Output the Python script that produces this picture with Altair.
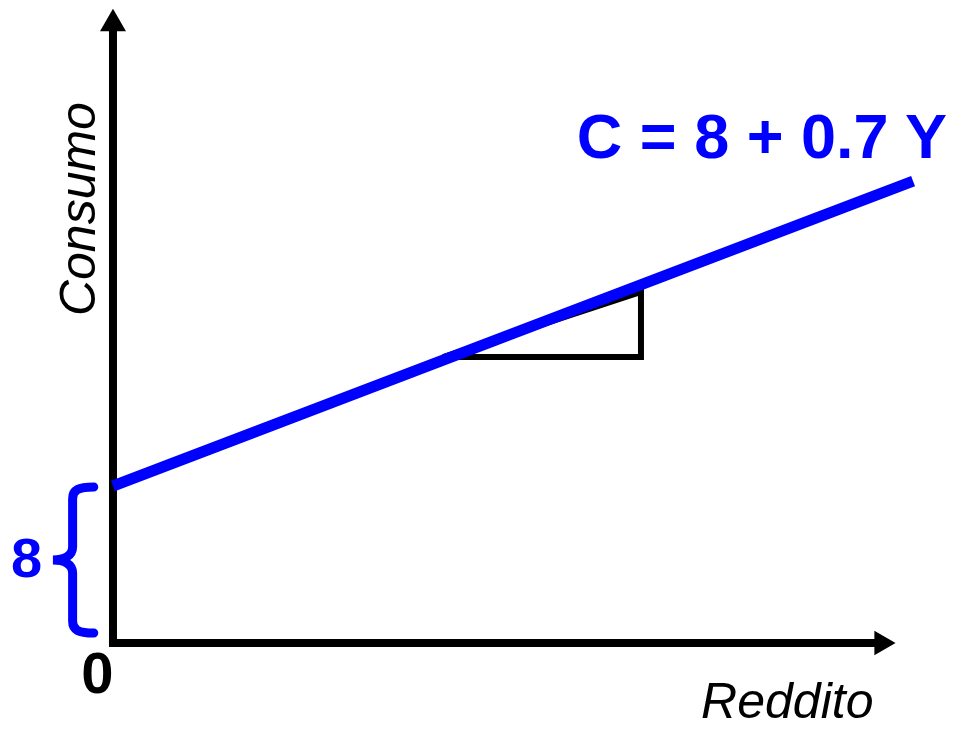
import altair as alt
import pandas as pd

# Consumption function C = 8 + 0.7 Y (income Y on x, consumption C on y)
income_line = [0.0, 22.2]
consumption_line = [8.0, 23.54]

# slope triangle under the line
tri_income = [9.16, 14.65, 14.65, 9.16]
tri_consumption = [14.57, 14.57, 17.89, 14.57]
tri_order = [0, 1, 2, 3]

# axis extents (arrow heads)
x_axis_end = [21.42]
y_axis_end = [31.75]

# brace marking the intercept (0..8)
brace_y = [4.23]
brace_x = [-1.12]

XS = alt.Scale(domain=[-2.913, 23.169], nice=False, zero=False)
YS = alt.Scale(domain=[-4.382, 32.357], nice=False, zero=False)

def X(f):
    return alt.X(f, type="quantitative", scale=XS, axis=None)

def Y(f):
    return alt.Y(f, type="quantitative", scale=YS, axis=None)

FONT = "Liberation Sans"
BLUE = "#0000FF"

# axes
axes_df = pd.DataFrame({"x0": [0.0, 0.0], "x1": [x_axis_end[0], 0.0],
                        "y0": [0.0, 0.0], "y1": [0.0, y_axis_end[0]]})
axes = alt.Chart(axes_df).mark_rule(color="black", strokeWidth=8, strokeCap="square").encode(
    x=X("x0"), x2="x1", y=Y("y0"), y2="y1")

head_up = alt.Chart(pd.DataFrame({"x": [0.0], "y": y_axis_end})).mark_point(
    shape="triangle-up", filled=True, color="black", size=676, opacity=1).encode(
    x=X("x"), y=Y("y"))
head_right = alt.Chart(pd.DataFrame({"x": x_axis_end, "y": [0.0]})).mark_point(
    shape="triangle-right", filled=True, color="black", size=600, opacity=1).encode(
    x=X("x"), y=Y("y"))

tri = alt.Chart(pd.DataFrame({"x": tri_income, "y": tri_consumption, "o": tri_order})).mark_line(
    color="black", strokeWidth=6, strokeJoin="miter").encode(
    x=X("x"), y=Y("y"), order="o:Q")

line = alt.Chart(pd.DataFrame({"x": income_line, "y": consumption_line})).mark_line(
    color=BLUE, strokeWidth=11, strokeCap="butt").encode(x=X("x"), y=Y("y"))

brace_path = ("M0.29,-1 C0.08,-1 0,-0.96 0,-0.84 L0,-0.18 C0,-0.05 -0.12,0 -0.27,0 "
              "C-0.12,0 0,0.05 0,0.18 L0,0.84 C0,0.96 0.08,1 0.29,1")
brace = alt.Chart(pd.DataFrame({"x": brace_x, "y": brace_y})).mark_point(
    shape=brace_path, filled=False, color=BLUE, strokeWidth=9, size=146 * 146, opacity=1,
    strokeCap="round").encode(x=X("x"), y=Y("y"))

def label(text, x, y, **kw):
    df = pd.DataFrame({"x": [x], "y": [y], "t": [text]})
    return alt.Chart(df).mark_text(font=FONT, **kw).encode(x=X("x"), y=Y("y"), text="t:N")

t_eq = label("C = 8 + 0.7 Y", 23.14, 24.71, align="right", baseline="alphabetic",
             fontSize=63, fontWeight="bold", color=BLUE)
t_8 = label("8", -2.40, 3.36, align="center", baseline="alphabetic",
            fontSize=56, fontWeight="bold", color=BLUE)
t_0 = label("0", -0.43, -2.55, align="center", baseline="alphabetic",
            fontSize=58, fontWeight="bold", color="black")
t_c = label("Consumo", -0.50, 22.11, align="center", baseline="alphabetic", angle=270,
            fontSize=50, fontStyle="italic", color="black")
t_r = label("Reddito", 18.71, -3.80, align="center", baseline="alphabetic",
            fontSize=50, fontStyle="italic", color="black")

chart = alt.layer(axes, head_up, head_right, tri, line, brace, t_eq, t_8, t_0, t_c, t_r).properties(
    width=940, height=721, padding=0,
    autosize=alt.AutoSizeParams(type="none"),
    background="white",
).configure_view(stroke=None)

chart.save("out.html", embed_options={"renderer": "svg", "actions": False})
